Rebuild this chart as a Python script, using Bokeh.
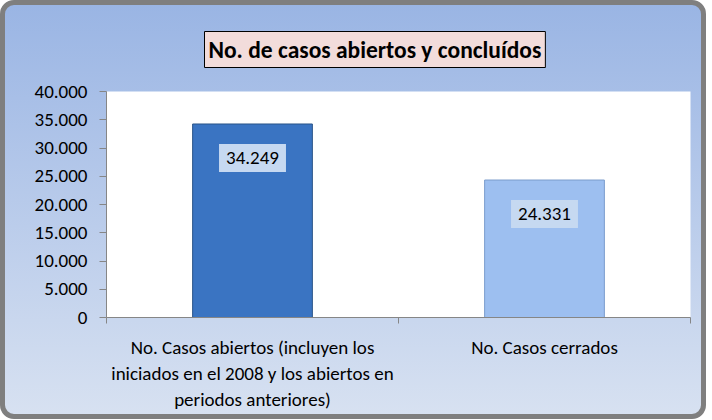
from bokeh.plotting import figure
from bokeh.models import (ColumnDataSource, Label, CustomJSTickFormatter, Title, FixedTicker, Range1d,
                          LinearAxis)
from bokeh.embed import file_html
from bokeh.resources import INLINE

categories = ["No. Casos abiertos (incluyen los\niniciados en el 2008 y los abiertos en\nperiodos anteriores)",
              "No. Casos cerrados"]
values = [34249, 24331]
colors = ["#3a74c2", "#9dbff0"]
edge_colors = ["#2a5488", "#7a9ccc"]
y_ticks = [0, 5000, 10000, 15000, 20000, 25000, 30000, 35000, 40000]
title_text = "No. de casos abiertos y concluídos"

FONT = "Carlito, Calibri, Lato"
n = len(categories)
centres = [i + 0.5 for i in range(n)]
labels = [f"{v:,}".replace(",", ".") for v in values]
src = ColumnDataSource(dict(x=centres, val=values, color=colors, edge=edge_colors, label=labels))

p = figure(x_range=Range1d(0, n), y_range=Range1d(0, 40000), output_backend="svg", toolbar_location=None,
           x_axis_type=None,
           frame_width=584, frame_height=226, min_border_left=101, min_border_right=11,
           min_border_top=81, min_border_bottom=95)
p.border_fill_alpha = 0
p.styles = {"background": "linear-gradient(#9ab5e4, #d7e1f1)",
            "border": "5px solid #7f7f7f", "border-radius": "14px", "box-sizing": "border-box"}
p.background_fill_color = "white"
p.outline_line_color = None

p.vbar(x="x", top="val", width=0.41, source=src, fill_color="color", line_color="edge", line_width=1)

for c, v, lab in zip(centres, values, labels):
    p.add_layout(Label(x=c, y=v, text=lab, y_offset=-34, text_align="center",
                       text_baseline="middle", text_font_size="19px", text_color="black",
                       text_font=FONT, background_fill_color="#c6d9f1", padding=(7, 8)))

p.xgrid.grid_line_color = None
p.ygrid.grid_line_color = None

# category axis: labels at category centres, tick marks at category boundaries
xax = LinearAxis(ticker=FixedTicker(ticks=centres, minor_ticks=list(range(n + 1))),
                 major_label_overrides={c: lab for c, lab in zip(centres, categories)})
xax.major_tick_line_color = None
xax.minor_tick_line_color = "#868686"
xax.minor_tick_in = 0
xax.minor_tick_out = 6
xax.major_label_standoff = 12
xax.major_label_text_line_height = 1.15
p.add_layout(xax, "below")

p.yaxis.ticker = FixedTicker(ticks=y_ticks)
p.yaxis.formatter = CustomJSTickFormatter(code="return tick.toString().replace(/\\B(?=(\\d{3})+(?!\\d))/g, '.');")
for ax in (xax, p.yaxis[0]):
    ax.axis_line_color = "#868686"
    ax.major_label_text_color = "black"
    ax.major_label_text_font_size = "19px"
    ax.major_label_text_font = FONT
p.yaxis.major_tick_line_color = "#868686"
p.yaxis.minor_tick_line_color = None
p.yaxis.major_tick_in = 0
p.yaxis.major_tick_out = 7
p.yaxis.major_label_standoff = 12

t = Title(text=title_text, align="left", text_font_size="23.5px", text_font_style="bold",
          text_font=FONT, text_color="black", padding=4,
          background_fill_color="#f2dcdb", border_line_color="black", border_line_width=1, offset=98,
          standoff=48)
p.add_layout(t, "above")

open("out.html", "w").write(file_html(p, INLINE))
